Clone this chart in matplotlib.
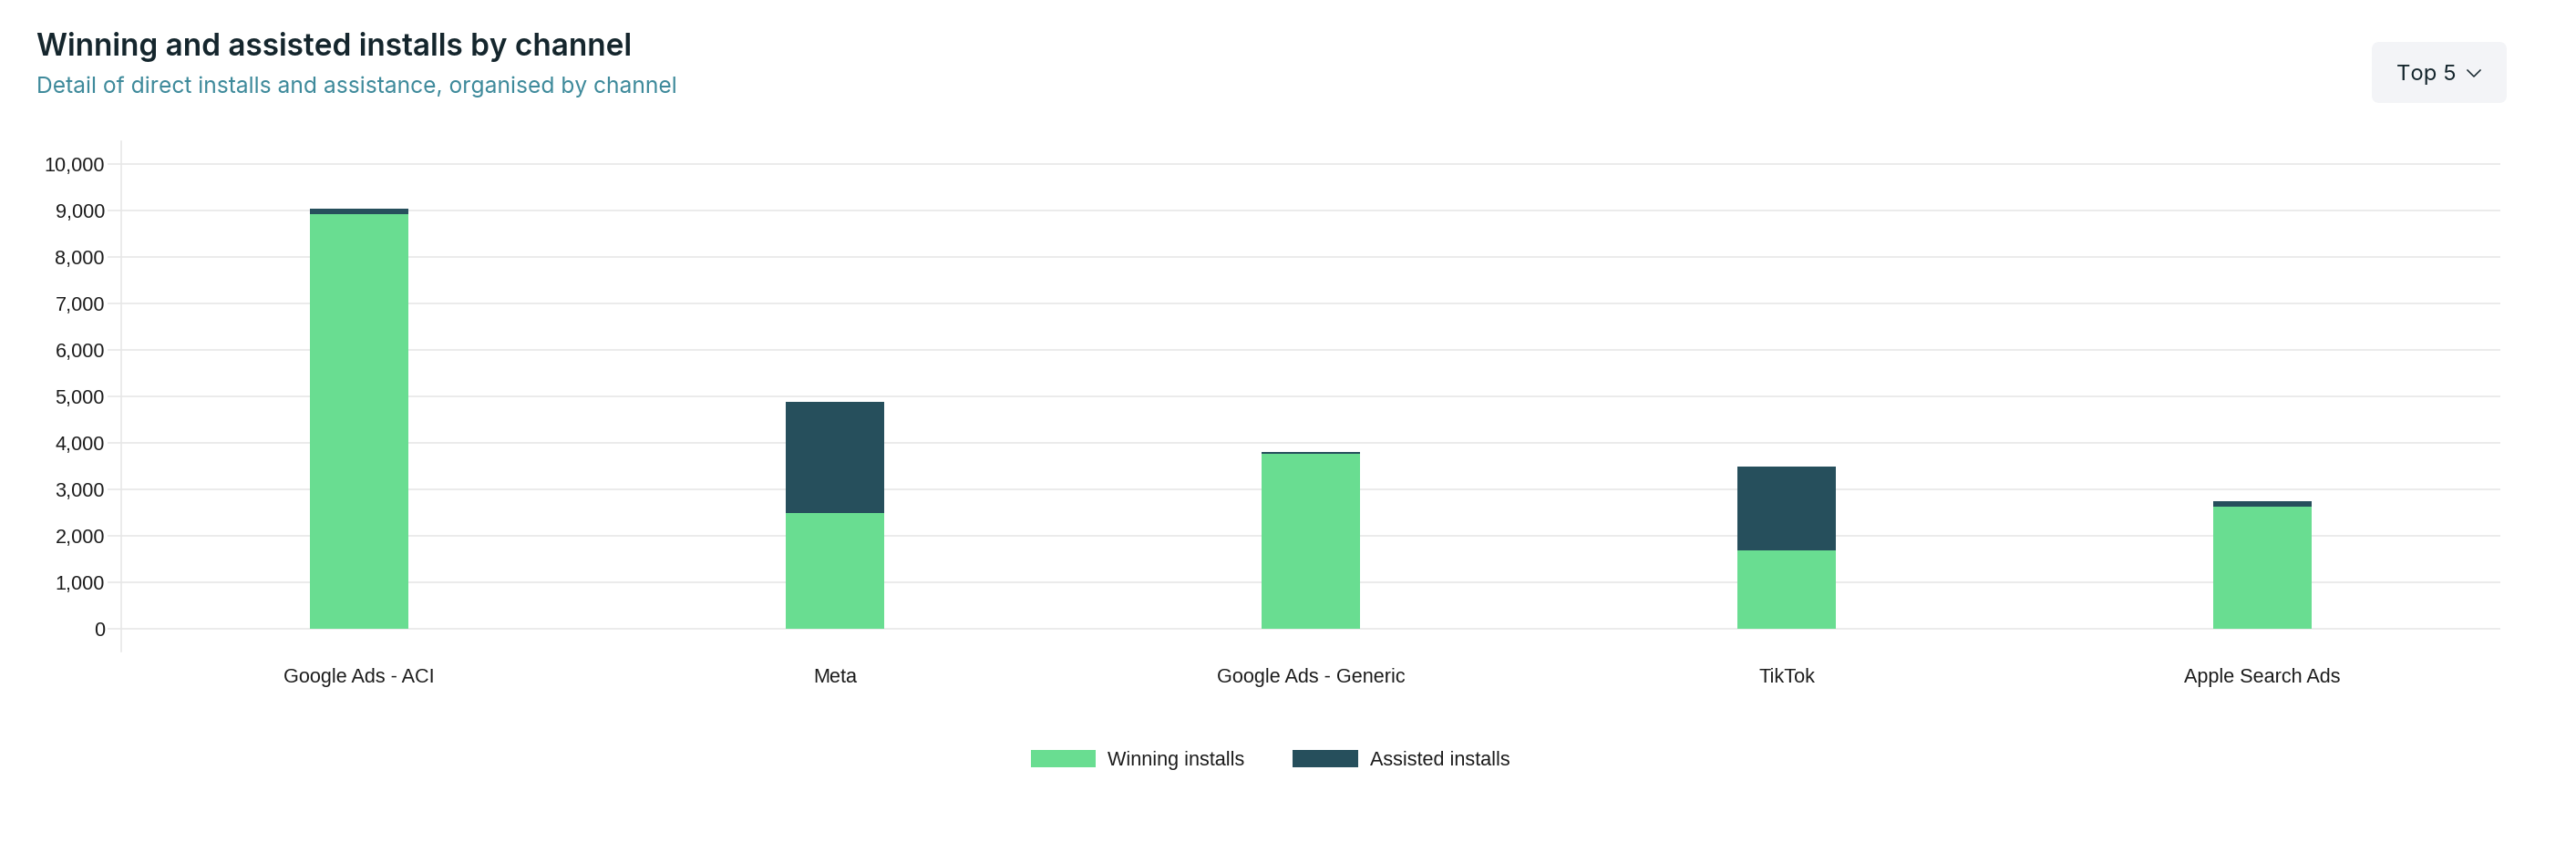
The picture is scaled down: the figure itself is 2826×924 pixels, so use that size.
import matplotlib
matplotlib.use("Agg")
import matplotlib.pyplot as plt
from matplotlib.patches import FancyBboxPatch, Patch
from matplotlib.lines import Line2D
from matplotlib.ticker import FuncFormatter

# ---- data ----
channels = ["Google Ads - ACI", "Meta", "Google Ads - Generic", "TikTok", "Apple Search Ads"]
winning = [8920, 2500, 3770, 1695, 2640]
assisted = [120, 2390, 35, 1805, 105]
series_names = ["Winning installs", "Assisted installs"]
yticks = list(range(0, 10001, 1000))

title = "Winning and assisted installs by channel"
subtitle = "Detail of direct installs and assistance, organised by channel"
dropdown = "Top 5"

GREEN = "#69dd91"
DARK = "#264f5c"
GRID = "#e6e6e6"
TXT = "#1c1c1c"

W, H, DPI = 2826, 924, 100
fig = plt.figure(figsize=(W / DPI, H / DPI), dpi=DPI)
fig.patch.set_facecolor("white")

def fx(px):
    return px / W

def fy(py):
    return 1 - py / H

ax = fig.add_axes([fx(133), fy(715), fx(2743) - fx(133), fy(155) - fy(715)])
x = list(range(len(channels)))
bw = 0.205
ax.bar(x, winning, width=bw, color=GREEN, zorder=3, linewidth=0)
ax.bar(x, assisted, width=bw, bottom=winning, color=DARK, zorder=3, linewidth=0)

ax.set_xlim(-0.5, len(channels) - 0.5)
ax.set_ylim(-480, 10490)
ax.set_yticks(yticks)
ax.yaxis.set_major_formatter(FuncFormatter(lambda v, p: f"{int(v):,}"))
ax.set_xticks(x)
ax.set_xticklabels(channels)

for lab in ax.get_xticklabels() + ax.get_yticklabels():
    lab.set_fontfamily("Liberation Sans")
    lab.set_fontsize(15.6)
    lab.set_color(TXT)

ax.tick_params(axis="x", length=0, pad=13)
ax.tick_params(axis="y", length=10.8, width=1.1, color=GRID, pad=2.2)
ax.grid(axis="y", color=GRID, linewidth=1.1, zorder=0)
ax.set_axisbelow(True)
for s in ["top", "right", "bottom"]:
    ax.spines[s].set_visible(False)
ax.spines["left"].set_color(GRID)
ax.spines["left"].set_linewidth(1.1)

# ---- titles ----
fig.text(fx(40), fy(61), title, fontfamily="Inter", fontweight="semibold",
         fontsize=24, color="#15262d", ha="left", va="baseline")
fig.text(fx(40), fy(102), subtitle, fontfamily="Inter", fontweight="normal",
         fontsize=17.7, color="#3e8a9b", ha="left", va="baseline")

# ---- dropdown button ----
btn = FancyBboxPatch((fx(2602), fy(113)), fx(2750) - fx(2602), fy(46) - fy(113),
                     boxstyle="round,pad=0,rounding_size=0.003",
                     transform=fig.transFigure, facecolor="#f3f4f7",
                     edgecolor="none", mutation_aspect=W / H)
fig.patches.append(btn)
fig.text(fx(2629), fy(88), dropdown, fontfamily="Inter", fontsize=17.2,
         color="#15262d", ha="left", va="baseline")
fig.lines.append(Line2D([fx(2707), fx(2714), fx(2721)], [fy(77), fy(84), fy(77)],
                        transform=fig.transFigure, color="#15262d", linewidth=1.1))

# ---- legend ----
handles = [Patch(facecolor=GREEN, edgecolor="none"), Patch(facecolor=DARK, edgecolor="none")]
leg = fig.legend(handles, series_names, loc="center", ncol=2,
                 bbox_to_anchor=(fx(1393.5), fy(834)), frameon=False,
                 prop={"family": "Liberation Sans", "size": 15.6},
                 handlelength=3.3, handleheight=1.0, handletextpad=0.6,
                 columnspacing=2.45, borderpad=0)
for t in leg.get_texts():
    t.set_color(TXT)

fig.savefig("out.png", dpi=DPI, facecolor="white")
